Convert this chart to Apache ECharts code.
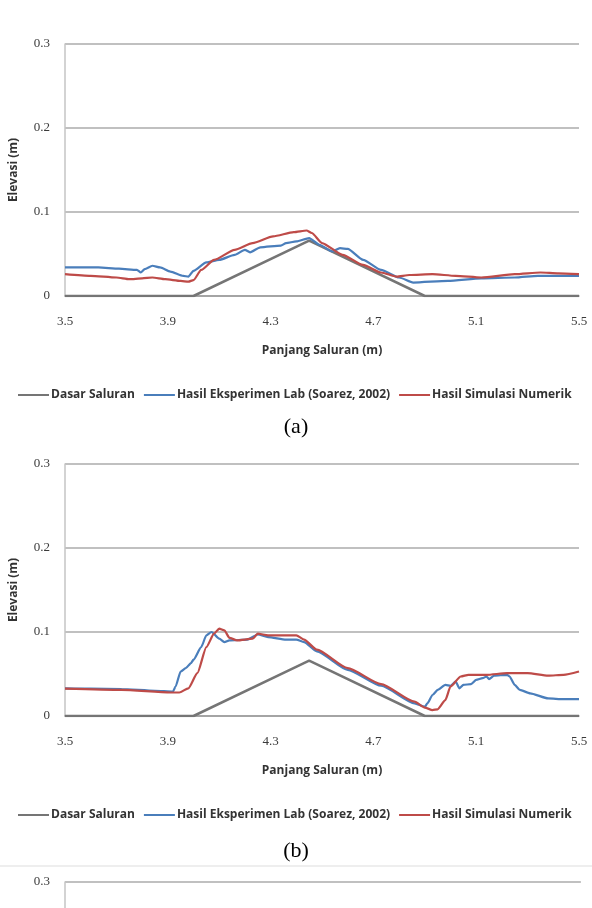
<!DOCTYPE html>
<html>
<head>
<meta charset="utf-8">
<script src="https://cdn.jsdelivr.net/npm/echarts@6/dist/echarts.min.js"></script>
<style>
  html, body { margin: 0; padding: 0; background: #fff; overflow: hidden; }
  #chart { width: 592px; height: 1200px; }
</style>
</head>
<body>
<div id="chart"></div>
<script>
// series names
const seriesNames = ['Dasar Saluran', 'Hasil Eksperimen Lab (Soarez, 2002)', 'Hasil Simulasi Numerik']
const captions = ['(a)', '(b)']

// channel bed (same in both panels)
const bedX = [3.5, 4.0, 4.45, 4.9, 5.5]
const bedY = [0, 0, 0.066, 0, 0]

// panel (a) - lab experiment
const labAX = [3.5, 3.63, 3.71, 3.78, 3.795, 3.81, 3.84, 3.87, 3.91, 3.96, 3.98, 4.0, 4.05, 4.1, 4.16, 4.2, 4.22, 4.26, 4.34, 4.36, 4.4, 4.45, 4.49, 4.54, 4.57, 4.6, 4.66, 4.73, 4.8, 4.855, 4.99, 5.12, 5.25, 5.34, 5.5]
const labAY = [0.034, 0.034, 0.0325, 0.031, 0.028, 0.032, 0.036, 0.034, 0.029, 0.024, 0.023, 0.03, 0.04, 0.043, 0.049, 0.055, 0.052, 0.058, 0.06, 0.063, 0.065, 0.069, 0.061, 0.053, 0.057, 0.056, 0.043, 0.031, 0.022, 0.016, 0.018, 0.021, 0.022, 0.024, 0.024]

// panel (a) - numerical simulation
const simAX = [3.5, 3.6, 3.7, 3.75, 3.8, 3.84, 3.89, 3.95, 3.98, 4.0, 4.03, 4.08, 4.16, 4.23, 4.31, 4.39, 4.44, 4.46, 4.5, 4.58, 4.66, 4.73, 4.79, 4.84, 4.93, 5.02, 5.12, 5.25, 5.35, 5.42, 5.5]
const simAY = [0.026, 0.024, 0.022, 0.02, 0.021, 0.022, 0.02, 0.018, 0.017, 0.019, 0.031, 0.043, 0.055, 0.063, 0.071, 0.076, 0.078, 0.075, 0.063, 0.049, 0.037, 0.028, 0.023, 0.025, 0.026, 0.024, 0.022, 0.026, 0.028, 0.027, 0.026]

// panel (b) - lab experiment
const labBX = [3.5, 3.6, 3.72, 3.85, 3.92, 3.93, 3.95, 3.97, 3.99, 4.0, 4.03, 4.05, 4.07, 4.1, 4.12, 4.14, 4.21, 4.25, 4.29, 4.36, 4.4, 4.43, 4.48, 4.6, 4.73, 4.86, 4.9, 4.91, 4.93, 4.95, 4.98, 5.0, 5.02, 5.035, 5.05, 5.08, 5.1, 5.125, 5.14, 5.15, 5.17, 5.22, 5.23, 5.25, 5.27, 5.31, 5.38, 5.44, 5.5]
const labBY = [0.033, 0.0325, 0.032, 0.03, 0.029, 0.035, 0.053, 0.057, 0.063, 0.067, 0.082, 0.096, 0.1, 0.092, 0.088, 0.09, 0.091, 0.097, 0.094, 0.091, 0.091, 0.088, 0.077, 0.055, 0.036, 0.015, 0.011, 0.015, 0.025, 0.031, 0.037, 0.036, 0.041, 0.033, 0.037, 0.038, 0.043, 0.045, 0.047, 0.044, 0.048, 0.049, 0.047, 0.037, 0.031, 0.027, 0.021, 0.02, 0.02]

// panel (b) - numerical simulation
const simBX = [3.5, 3.72, 3.91, 3.945, 3.98, 4.015, 4.05, 4.08, 4.1, 4.12, 4.14, 4.17, 4.23, 4.25, 4.29, 4.36, 4.4, 4.43, 4.48, 4.6, 4.73, 4.86, 4.9, 4.93, 4.95, 4.98, 5.0, 5.04, 5.07, 5.14, 5.22, 5.3, 5.38, 5.44, 5.5]
const simBY = [0.0325, 0.031, 0.028, 0.028, 0.033, 0.051, 0.082, 0.098, 0.104, 0.102, 0.093, 0.09, 0.092, 0.098, 0.096, 0.096, 0.096, 0.091, 0.079, 0.057, 0.038, 0.017, 0.01, 0.007, 0.008, 0.019, 0.035, 0.047, 0.049, 0.049, 0.051, 0.051, 0.048, 0.049, 0.053]

// axis ticks
const xMin = 3.5, xMax = 5.5, xLabelStep = 0.4
const yMin = 0, yMax = 0.3, yStep = 0.1

const colors = ['#757575', '#4a7ebb', '#be4b48']
const labelFont = "'Liberation Serif', 'Times New Roman', serif"
const sansFont = "'Open Sans', 'Liberation Sans', sans-serif"

function pairs(xs, ys) {
  return xs.map((x, i) => [x, ys[i]])
}

function xLabel(v) {
  const k = (v - xMin) / xLabelStep
  return Math.abs(k - Math.round(k)) < 1e-6 ? v.toFixed(1) : ''
}

// pixel layout of the three stacked panels (third is cut off by the page)
const panels = [
  { left: 59, top: 44, width: 520, height: 252 },
  { left: 59, top: 464, width: 520, height: 252 },
  { left: 61, top: 882, width: 523, height: 252 },
]

function buildOption() {
  const grid = panels.map(p => ({ ...p, containLabel: false }))

  const xAxis = panels.map((p, i) => ({
    type: 'value',
    gridIndex: i,
    min: xMin,
    max: xMax,
    interval: 0.1,
    name: 'Panjang Saluran (m)',
    nameLocation: 'middle',
    nameGap: 49,
    nameTextStyle: { fontFamily: sansFont, fontWeight: 'bold', fontSize: 12, color: '#333' },
    axisLine: { lineStyle: { color: '#9a9a9a', width: 1.5 } },
    axisTick: { show: false },
    splitLine: { show: false },
    axisLabel: {
      formatter: xLabel,
      margin: 19,
      fontFamily: labelFont,
      fontSize: 13,
      color: '#3a3a3a',
      showMinLabel: true,
      showMaxLabel: true,
    },
  }))

  const yAxis = panels.map((p, i) => ({
    type: 'value',
    gridIndex: i,
    min: yMin,
    max: yMax,
    interval: yStep,
    name: 'Elevasi (m)',
    nameLocation: 'middle',
    nameGap: 45,
    nameTextStyle: { fontFamily: sansFont, fontWeight: 'bold', fontSize: 12, color: '#333' },
    axisLine: { show: true, lineStyle: { color: '#c4c4c4', width: 1.5 } },
    axisTick: { show: false },
    splitLine: { lineStyle: { color: '#ababab', width: 1.5 } },
    axisLabel: {
      formatter: v => (v === 0 ? '0' : v.toFixed(1)),
      margin: 15,
      fontFamily: labelFont,
      fontSize: 13,
      color: '#3a3a3a',
    },
  }))

  const lineSeries = (name, data, idx, color) => ({
    name,
    type: 'line',
    xAxisIndex: idx,
    yAxisIndex: idx,
    data,
    symbol: 'none',
    smooth: 0.2,
    smoothMonotone: 'x',
    lineStyle: { color, width: 2.2 },
    itemStyle: { color },
  })

  const series = [
    lineSeries(seriesNames[0], pairs(bedX, bedY), 0, colors[0]),
    lineSeries(seriesNames[1], pairs(labAX, labAY), 0, colors[1]),
    lineSeries(seriesNames[2], pairs(simAX, simAY), 0, colors[2]),
    lineSeries(seriesNames[0], pairs(bedX, bedY), 1, colors[0]),
    lineSeries(seriesNames[1], pairs(labBX, labBY), 1, colors[1]),
    lineSeries(seriesNames[2], pairs(simBX, simBY), 1, colors[2]),
  ]
  series[0].smooth = false
  series[3].smooth = false
  series[0].lineStyle.width = 2.5
  series[3].lineStyle.width = 2.5

  const legendTops = [389, 809]
  const legend = legendTops.map(top => ({
    data: seriesNames,
    left: 18,
    top,
    padding: 0,
    itemGap: 9,
    icon: 'rect',
    itemWidth: 31,
    itemHeight: 2,
    textStyle: { fontFamily: sansFont, fontWeight: 'bold', fontSize: 12, color: '#333', padding: [0, 0, 0, -3] },
  }))

  const captionTops = [428, 852]
  const graphic = captions.map((t, i) => ({
    type: 'text',
    left: 'center',
    top: captionTops[i] - 12,
    style: { text: t, font: "22px 'Liberation Serif', 'Times New Roman', serif", fill: '#000' },
  }))
  graphic.push({
    type: 'line',
    shape: { x1: 0, y1: 866, x2: 592, y2: 866 },
    style: { stroke: '#dddddd', lineWidth: 1 },
  })

  return {
    animation: false,
    backgroundColor: '#fff',
    grid,
    xAxis,
    yAxis,
    legend,
    series,
    graphic,
  }
}

const chart = echarts.init(document.getElementById('chart'), null, { renderer: 'canvas' })
chart.setOption(buildOption())
</script>
</body>
</html>
